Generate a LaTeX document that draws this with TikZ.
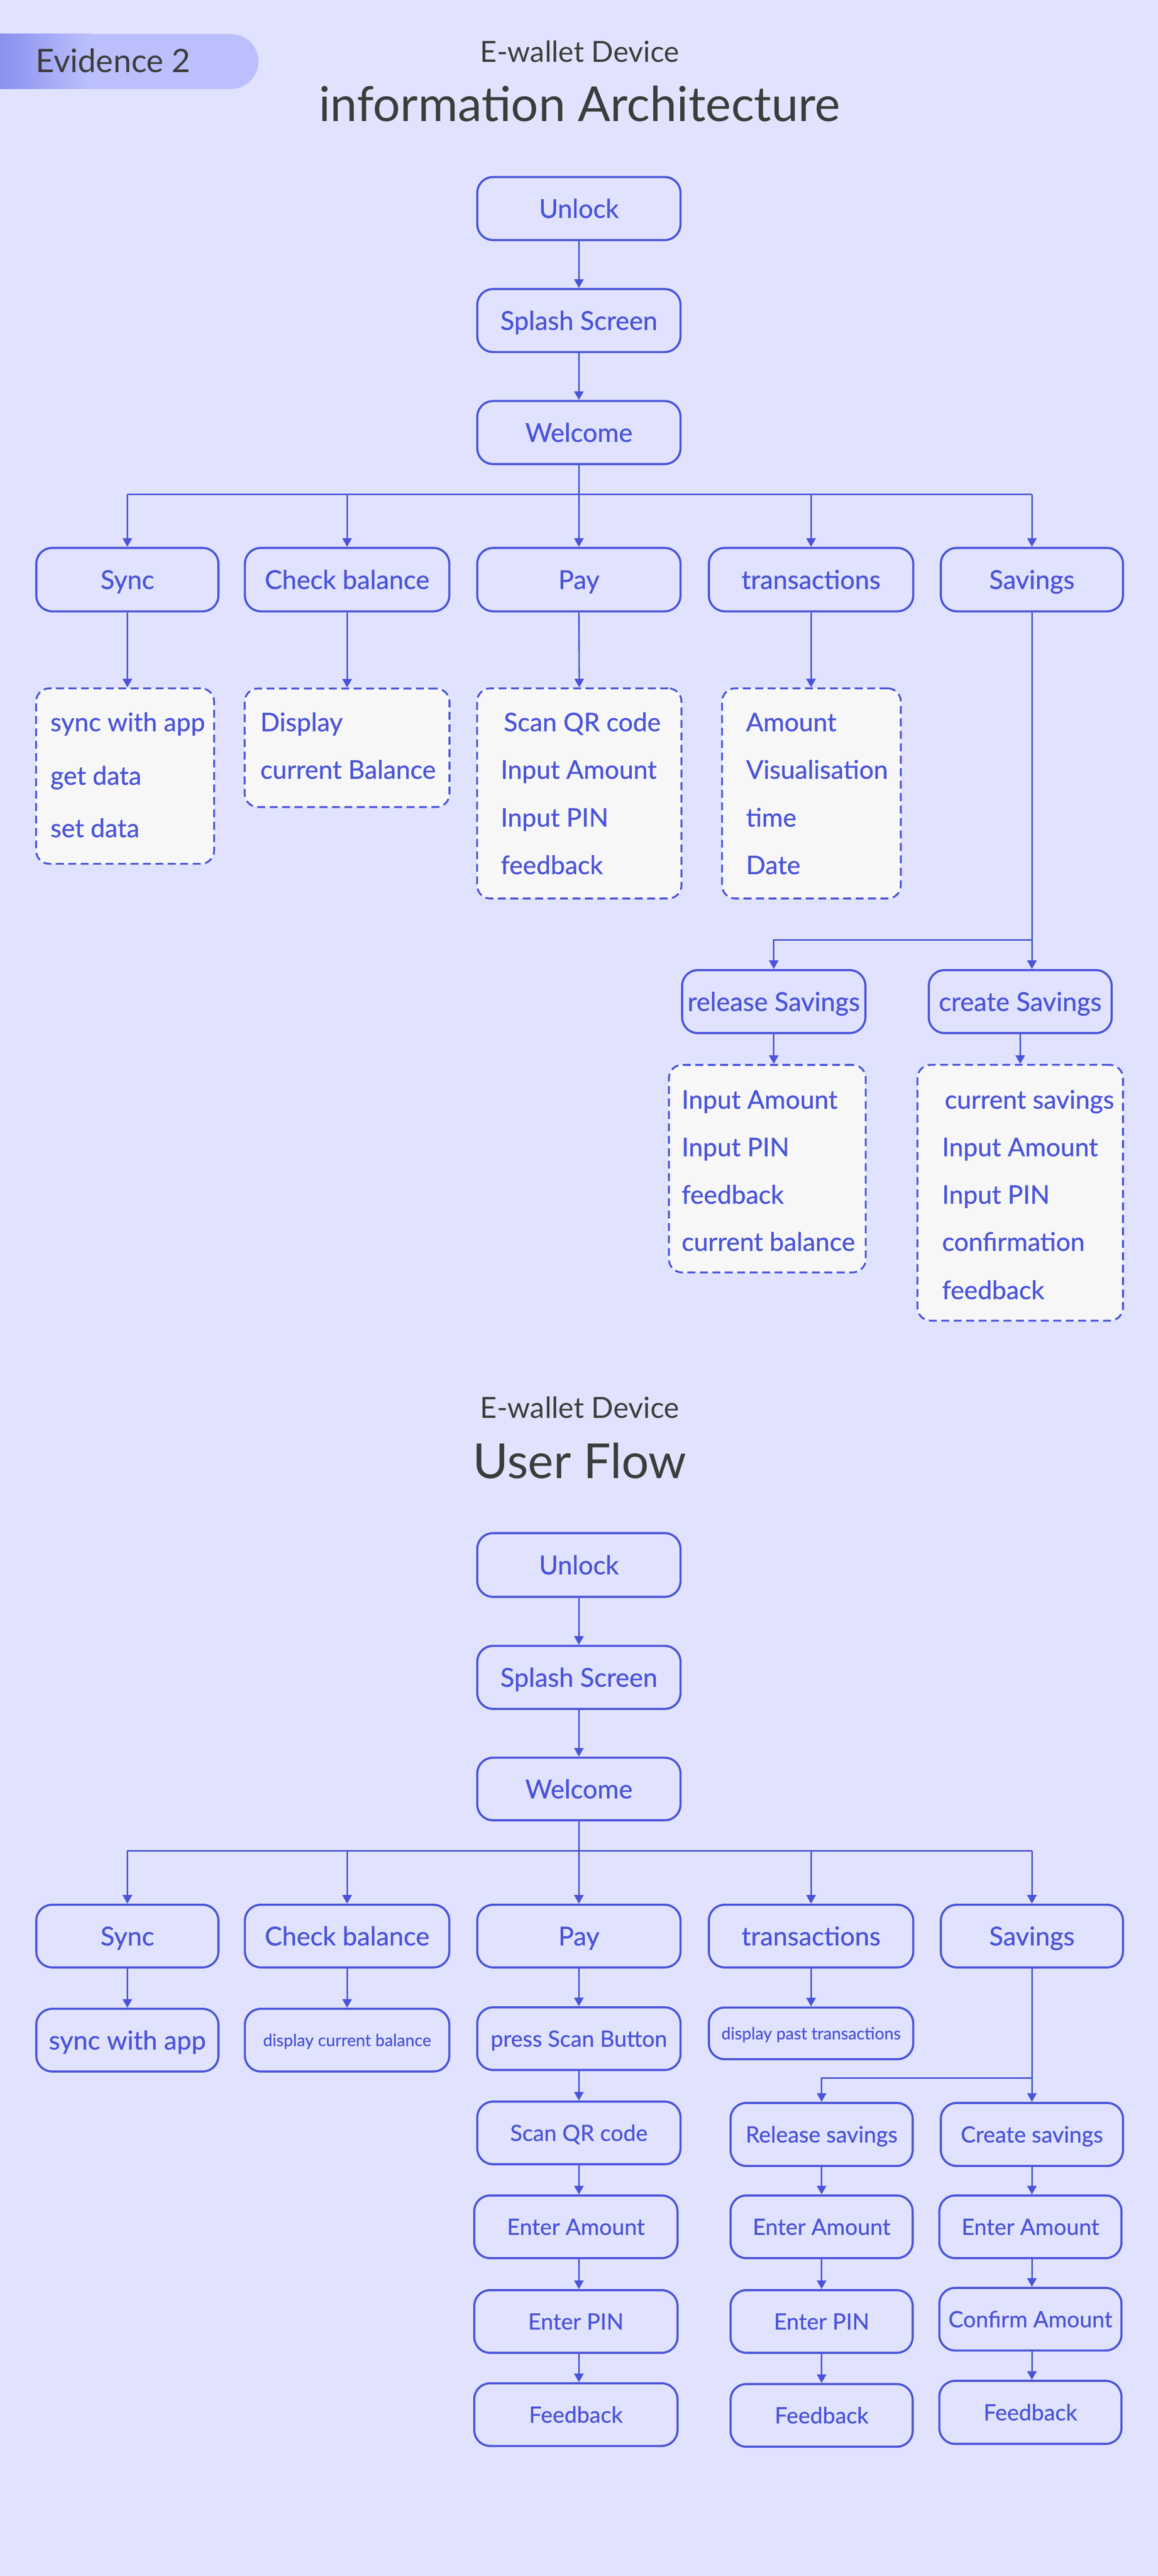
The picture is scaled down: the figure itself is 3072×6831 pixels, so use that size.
\documentclass[tikz,border=0pt]{standalone}
\usepackage{fontspec}
\setmainfont{Lato}
\newfontfamily\medf{Lato}[FakeBold=0.7]
\usetikzlibrary{arrows.meta}
\definecolor{bg}{HTML}{E1E3FE}
\definecolor{ink}{HTML}{4B54D9}
\definecolor{fillg}{HTML}{F7F7F7}
\definecolor{titlec}{HTML}{3C3C3C}
\definecolor{pilldark}{HTML}{8A90EE}
\definecolor{pilllight}{HTML}{BBC0FD}
\tikzset{
  base/.style={draw=ink, line width=1.6pt, rounded corners=0.42cm, text=ink, inner sep=0pt, align=center},
  big/.style={base, font=\medf\fontsize{19.6}{24}\selectfont, text height=14.1pt, text depth=0pt},
  mid/.style={base, font=\medf\fontsize{16.9}{20}\selectfont, text height=12.1pt, text depth=0pt},
  small/.style={base, font=\medf\fontsize{12.6}{15}\selectfont, text height=9.0pt, text depth=0pt},
  sz/.style 2 args={minimum width=#1, minimum height=#2},
  lst/.style={draw=ink, line width=1.4pt, dash pattern=on 0.21cm off 0.12cm, fill=fillg, rounded corners=0.35cm, inner sep=0pt},
  itm/.style={anchor=base west, text=ink, inner sep=0pt, font=\medf\fontsize{19.3}{24}\selectfont},
  ttl/.style={anchor=base, text=titlec, inner sep=0pt},
  ln/.style={draw=ink, line width=1.1pt},
  arr/.style={ln, -{Triangle[length=0.23cm,width=0.25cm]}},
}
\begin{document}
\begin{tikzpicture}[x=0.01cm,y=-0.01cm]
\fill[bg] (0,0) rectangle (3072,6831);
\useasboundingbox (0,0) rectangle (3072,6831);
% Evidence pill
\fill[pilllight, rounded corners=0.73cm] (-150,90) rectangle (686,236);
\shade[left color=pilldark, right color=pilllight] (0,90) rectangle (240,236);
\node[anchor=base west, inner sep=0pt, text=titlec, font=\fontsize{24.4}{30}\selectfont] (ev) at (94,192) {Evidence 2};
% ---------------- Information Architecture ----------------
\node[ttl, font=\fontsize{21.9}{26}\selectfont] (t1a) at (1538,164) {E-wallet Device};
\node[ttl, font=\fontsize{36.4}{44}\selectfont] (t1b) at (1538,322) {information Architecture};

\node[big, sz={5.39cm}{1.67cm}] (unlockA) at (1536,553) {Unlock};
\node[big, sz={5.39cm}{1.67cm}] (splashA) at (1536,850) {Splash Screen};
\node[big, sz={5.39cm}{1.67cm}] (welcomeA) at (1536,1147) {Welcome};

\node[big, sz={4.83cm}{1.68cm}] (syncA) at (338,1537) {Sync};
\node[big, sz={5.42cm}{1.68cm}] (checkA) at (921,1537) {Check balance};
\node[big, sz={5.39cm}{1.68cm}] (payA) at (1536,1537) {Pay};
\node[big, sz={5.42cm}{1.68cm}] (transA) at (2152,1537) {transactions};
\node[big, sz={4.83cm}{1.68cm}] (savA) at (2738,1537) {Savings};

\coordinate (busA) at (1536,1311);
\draw[arr] (unlockA) -- (splashA);
\draw[arr] (splashA) -- (welcomeA);
\draw[arr] (welcomeA) -- (payA);
\draw[ln] (syncA.north |- busA) -- (savA.north |- busA);
\draw[arr] (syncA.north |- busA) -- (syncA.north);
\draw[arr] (checkA.north |- busA) -- (checkA.north);
\draw[arr] (transA.north |- busA) -- (transA.north);
\draw[arr] (savA.north |- busA) -- (savA.north);

% lists
\node[lst, sz={4.72cm}{4.65cm}] (syncL) at (332,2058) {};
\node[lst, sz={5.43cm}{3.14cm}] (checkL) at (921,1983) {};
\node[lst, sz={5.42cm}{5.57cm}] (payL) at (1537,2104) {};
\node[lst, sz={4.74cm}{5.57cm}] (transL) at (2153,2104) {};
\draw[arr] (syncA.south) -- (syncA.south |- syncL.north);
\draw[arr] (checkA.south) -- (checkL.north);
\draw[arr] (payA.south) -- (payL.north);
\draw[arr] (transA.south) -- (transA.south |- transL.north);

\node[itm] (s1) at (133,1939) {sync with app};
\node[itm] (s2) at (133,2081) {get data};
\node[itm] (s3) at (133,2220) {set data};
\node[itm] (c1) at (690,1939) {Display};
\node[itm] (c2) at (690,2065) {current Balance};
\node[itm] (p1) at (1336,1939) {Scan QR code};
\node[itm] (p2) at (1328,2065) {Input Amount};
\node[itm] (p3) at (1328,2192) {Input PIN};
\node[itm] (p4) at (1328,2318) {feedback};
\node[itm] (r1) at (1979,1939) {Amount};
\node[itm] (r2) at (1979,2065) {Visualisation};
\node[itm] (r3) at (1979,2192) {time};
\node[itm] (r4) at (1979,2318) {Date};

% savings branch
\node[big, sz={4.86cm}{1.67cm}] (relA) at (2053,2656) {release Savings};
\node[big, sz={4.85cm}{1.67cm}] (crtA) at (2707,2656) {create Savings};
\coordinate (brA) at (2738,2493);
\draw[ln] (savA.south) -- (brA);
\draw[arr] (brA) -| (relA.north);
\draw[arr] (brA) -- (brA |- crtA.north);

\node[lst, sz={5.22cm}{5.50cm}] (relL) at (2036,3099) {};
\node[lst, sz={5.45cm}{6.78cm}] (crtL) at (2707,3163) {};
\draw[arr] (relA.south) -- (relA.south |- relL.north);
\draw[arr] (crtA.south) -- (crtA.south |- crtL.north);

\node[itm] (e1) at (1808,2940) {Input Amount};
\node[itm] (e2) at (1808,3066) {Input PIN};
\node[itm] (e3) at (1808,3192) {feedback};
\node[itm] (e4) at (1808,3317) {current balance};
\node[itm] (f1) at (2506,2940) {current savings};
\node[itm] (f2) at (2499,3066) {Input Amount};
\node[itm] (f3) at (2499,3192) {Input PIN};
\node[itm] (f4) at (2499,3317) {confirmation};
\node[itm] (f5) at (2499,3445) {feedback};

% ---------------- User Flow ----------------
\node[ttl, font=\fontsize{21.9}{26}\selectfont] (t2a) at (1538,3761) {E-wallet Device};
\node[ttl, font=\fontsize{36.4}{44}\selectfont] (t2b) at (1538,3920) {User Flow};

\node[big, sz={5.39cm}{1.69cm}] (unlockB) at (1536,4150) {Unlock};
\node[big, sz={5.39cm}{1.67cm}] (splashB) at (1536,4448) {Splash Screen};
\node[big, sz={5.39cm}{1.66cm}] (welcomeB) at (1536,4744) {Welcome};

\node[big, sz={4.83cm}{1.66cm}] (syncB) at (338,5134) {Sync};
\node[big, sz={5.42cm}{1.66cm}] (checkB) at (921,5134) {Check balance};
\node[big, sz={5.39cm}{1.66cm}] (payB) at (1536,5134) {Pay};
\node[big, sz={5.42cm}{1.66cm}] (transB) at (2152,5134) {transactions};
\node[big, sz={4.83cm}{1.66cm}] (savB) at (2738,5134) {Savings};

\coordinate (busB) at (1536,4908);
\draw[arr] (unlockB) -- (splashB);
\draw[arr] (splashB) -- (welcomeB);
\draw[arr] (welcomeB) -- (payB);
\draw[ln] (syncB.north |- busB) -- (savB.north |- busB);
\draw[arr] (syncB.north |- busB) -- (syncB.north);
\draw[arr] (checkB.north |- busB) -- (checkB.north);
\draw[arr] (transB.north |- busB) -- (transB.north);
\draw[arr] (savB.north |- busB) -- (savB.north);

\node[big, sz={4.83cm}{1.66cm}] (syncB2) at (338,5410) {sync with app};
\node[small, sz={5.42cm}{1.66cm}] (checkB2) at (921,5410) {display current balance};
\node[mid, sz={5.39cm}{1.66cm}] (payB2) at (1536,5406) {press Scan Button};
\node[small, sz={5.42cm}{1.37cm}] (transB2) at (2152,5392) {display past transactions};
\draw[arr] (syncB) -- (syncB2);
\draw[arr] (checkB) -- (checkB2);
\draw[arr] (payB) -- (payB2);
\draw[arr] (transB) -- (transB2);

% pay column
\node[mid, sz={5.39cm}{1.66cm}] (payB3) at (1536,5656) {Scan QR code};
\node[mid, sz={5.39cm}{1.66cm}] (payB4) at (1528,5905) {Enter Amount};
\node[mid, sz={5.39cm}{1.66cm}] (payB5) at (1528,6156) {Enter PIN};
\node[mid, sz={5.39cm}{1.66cm}] (payB6) at (1528,6403) {Feedback};
\draw[arr] (payB2) -- (payB3);
\draw[arr] (payB3.south) -- (payB3.south |- payB4.north);
\draw[arr] (payB3.south |- payB4.south) -- (payB3.south |- payB5.north);
\draw[arr] (payB3.south |- payB5.south) -- (payB3.south |- payB6.north);

% savings branch
\node[mid, sz={4.83cm}{1.67cm}] (relB1) at (2180,5660) {Release savings};
\node[mid, sz={4.83cm}{1.66cm}] (relB2) at (2180,5905) {Enter Amount};
\node[mid, sz={4.83cm}{1.66cm}] (relB3) at (2180,6156) {Enter PIN};
\node[mid, sz={4.83cm}{1.66cm}] (relB4) at (2180,6405) {Feedback};
\node[mid, sz={4.83cm}{1.67cm}] (crtB1) at (2738,5660) {Create savings};
\node[mid, sz={4.83cm}{1.66cm}] (crtB2) at (2734,5905) {Enter Amount};
\node[mid, sz={4.83cm}{1.66cm}] (crtB3) at (2734,6150) {Confirm Amount};
\node[mid, sz={4.83cm}{1.67cm}] (crtB4) at (2734,6397) {Feedback};

\coordinate (brB) at (2738,5511);
\draw[ln] (savB.south) -- (brB);
\draw[arr] (brB) -| (relB1.north);
\draw[arr] (brB) -- (crtB1.north);
\draw[arr] (relB1) -- (relB2);
\draw[arr] (relB2) -- (relB3);
\draw[arr] (relB3) -- (relB4);
\draw[arr] (crtB1.south) -- (crtB1.south |- crtB2.north);
\draw[arr] (crtB1.south |- crtB2.south) -- (crtB1.south |- crtB3.north);
\draw[arr] (crtB1.south |- crtB3.south) -- (crtB1.south |- crtB4.north);
\end{tikzpicture}
\end{document}
